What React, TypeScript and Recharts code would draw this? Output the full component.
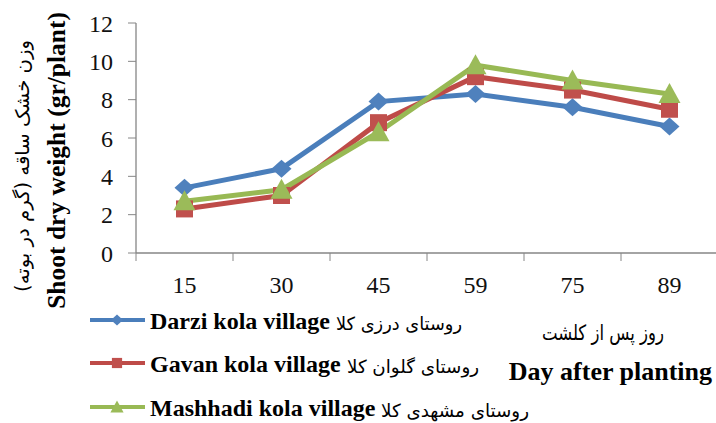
import React from 'react';
import { LineChart, Line, XAxis, YAxis, Legend } from 'recharts';

// days after planting (tick labels) and shoot dry weight per village
const DAYS = ['15', '30', '45', '59', '75', '89'];
const DARZI = [3.4, 4.4, 7.9, 8.3, 7.6, 6.6];
const GAVAN = [2.3, 3.0, 6.8, 9.2, 8.5, 7.5];
const MASHHADI = [2.7, 3.3, 6.3, 9.8, 9.0, 8.3];
const Y_TICKS = [0, 2, 4, 6, 8, 10, 12];

const SERIES = [
  { key: 'darzi', en: 'Darzi kola village', fa: 'روستای درزی کلا', line: '#4A7EBB', fill: '#4F81BD', shape: 'diamond', faLen: 126 },
  { key: 'gavan', en: 'Gavan kola village', fa: 'روستای گلوان کلا', line: '#BE4B48', fill: '#C0504D', shape: 'square', faLen: 132 },
  { key: 'mashhadi', en: 'Mashhadi kola village', fa: 'روستای مشهدی کلا', line: '#98B954', fill: '#9BBB59', shape: 'triangle', faLen: 148 },
];

const data = DAYS.map((d, i) => ({
  x: i + 0.5,
  day: d,
  darzi: DARZI[i],
  gavan: GAVAN[i],
  mashhadi: MASHHADI[i],
}));

const SERIF = '"Liberation Serif", "Times New Roman", serif';
const ARABIC = '"DejaVu Sans", sans-serif';
const AXIS = '#868686';

const marker = (shape: string, cx: number, cy: number, fill: string, s = 1) => {
  if (shape === 'diamond')
    return <polygon points={`${cx},${cy - 9 * s} ${cx + 10 * s},${cy} ${cx},${cy + 9 * s} ${cx - 10 * s},${cy}`} fill={fill} />;
  if (shape === 'square')
    return <rect x={cx - 8.5 * s} y={cy - 8.5 * s} width={17 * s} height={17 * s} fill={fill} />;
  return <polygon points={`${cx},${cy - 11 * s} ${cx + 11 * s},${cy + 9 * s} ${cx - 11 * s},${cy + 9 * s}`} fill={fill} />;
};

const dotFor = (shape: string, fill: string) => (p: any) => (
  <g key={`${shape}-${p.index}`}>{marker(shape, p.cx, p.cy, fill)}</g>
);

const DayTick = (props: any) => {
  const { x, y, payload } = props;
  const v = payload.value;
  if (Number.isInteger(v)) return <line x1={x} y1={y} x2={x} y2={y + 8} stroke={AXIS} />;
  return (
    <text x={x} y={y + 40} textAnchor="middle" fontFamily={SERIF} fontSize={24} fill="#111">
      {DAYS[Math.floor(v)]}
    </text>
  );
};

const YTitle = () => (
  <g>
    <text transform="translate(29, 166) rotate(-90)" textAnchor="middle" fontFamily={ARABIC} fontSize={19}
      textLength={252} lengthAdjust="spacingAndGlyphs" fill="#000">
      وزن خشک ساقه (گرم در بوته)
    </text>
    <text transform="translate(65, 12) rotate(-90)" textAnchor="end" fontFamily={SERIF} fontSize={25.5}
      fontWeight="bold" fill="#000">
      Shoot dry weight (gr/plant)
    </text>
  </g>
);

const XTitle = () => (
  <g>
    <text x={603} y={340} textAnchor="middle" fontFamily={ARABIC} fontSize={21} textLength={122}
      lengthAdjust="spacingAndGlyphs" fill="#000">
      روز پس از کلشت
    </text>
    <text x={712} y={380} textAnchor="end" fontFamily={SERIF} fontSize={26} fontWeight="bold" fill="#000">
      Day after planting
    </text>
  </g>
);

const LegendBox = () => {
  const ox = 80;
  const oy = 300;
  const rows = [320, 363, 407];
  return (
    <svg width={480} height={123} style={{ display: 'block' }}>
      {SERIES.map((s, i) => {
        const cy = rows[i] - oy;
        const enWidth = s.key === 'darzi' ? 180 : s.key === 'gavan' ? 191 : 225;
        return (
          <g key={s.key}>
            <line x1={90 - ox} y1={cy} x2={145 - ox} y2={cy} stroke={s.line} strokeWidth={4} />
            {marker(s.shape, 117 - ox, cy, s.fill, 0.6)}
            <text x={150 - ox} y={cy + 9} fontFamily={SERIF} fontSize={24} fontWeight="bold" fill="#000">
              {s.en}
            </text>
            <text x={150 - ox + enWidth + 6 + s.faLen / 2} y={cy + 10} textAnchor="middle" fontFamily={ARABIC}
              fontSize={18} textLength={s.faLen} lengthAdjust="spacingAndGlyphs" fill="#000">
              {s.fa}
            </text>
          </g>
        );
      })}
    </svg>
  );
};

export default function App() {
  return (
    <div style={{ position: 'absolute', left: 0, top: 0, width: 716, height: 423, overflow: 'hidden', background: '#fff' }}>
      <LineChart width={720} height={423} data={data} margin={{ top: 23, right: 2, bottom: 140, left: 0 }}>
        <XAxis
          dataKey="x"
          type="number"
          domain={[0, 6]}
          ticks={[0, 0.5, 1, 1.5, 2, 2.5, 3, 3.5, 4, 4.5, 5, 5.5, 6]}
          interval={0}
          height={30}
          tickLine={false}
          tickSize={0}
          tickMargin={0}
          tick={<DayTick />}
          axisLine={{ stroke: AXIS, strokeWidth: 1.3 }}
          label={{ content: () => <XTitle /> }}
        />
        <YAxis
          width={136}
          domain={[0, 12]}
          ticks={Y_TICKS}
          interval={0}
          tickSize={8}
          tickMargin={15}
          tickLine={{ stroke: AXIS }}
          axisLine={{ stroke: AXIS, strokeWidth: 1.3 }}
          tick={{ fontFamily: SERIF, fontSize: 24, fill: '#111' }}
          label={{ content: () => <YTitle /> }}
        />
        <Legend
          layout="vertical"
          align="center"
          verticalAlign="middle"
          wrapperStyle={{ left: 80, top: 300, width: 480, height: 123 }}
          content={() => <LegendBox />}
        />
        {SERIES.map((s) => (
          <Line
            key={s.key}
            dataKey={s.key}
            name={s.en}
            stroke={s.line}
            strokeWidth={5}
            dot={dotFor(s.shape, s.fill)}
            activeDot={false}
            isAnimationActive={false}
          />
        ))}
      </LineChart>
    </div>
  );
}
